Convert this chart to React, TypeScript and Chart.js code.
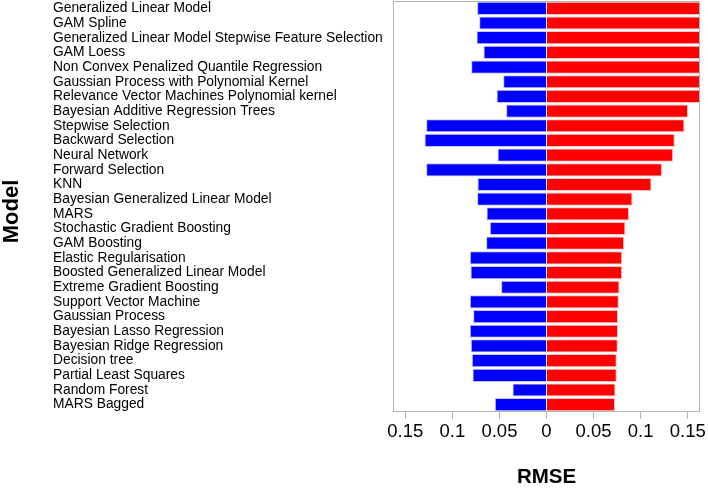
import React, { useEffect, useRef } from "react";
import { Chart, registerables } from "chart.js";

Chart.register(...registerables);

const models = [
  "Generalized Linear Model",
  "GAM Spline",
  "Generalized Linear Model Stepwise Feature Selection",
  "GAM Loess",
  "Non Convex Penalized Quantile Regression",
  "Gaussian Process with Polynomial Kernel",
  "Relevance Vector Machines Polynomial kernel",
  "Bayesian Additive Regression Trees",
  "Stepwise Selection",
  "Backward Selection",
  "Neural Network",
  "Forward Selection",
  "KNN",
  "Bayesian Generalized Linear Model",
  "MARS",
  "Stochastic Gradient Boosting",
  "GAM Boosting",
  "Elastic Regularisation",
  "Boosted Generalized Linear Model",
  "Extreme Gradient Boosting",
  "Support Vector Machine",
  "Gaussian Process",
  "Bayesian Lasso Regression",
  "Bayesian Ridge Regression",
  "Decision tree",
  "Partial Least Squares",
  "Random Forest",
  "MARS Bagged",
];

// left (blue) side, magnitudes
const leftRMSE = [
  0.0737, 0.0715, 0.0743, 0.0669, 0.08, 0.046, 0.053, 0.0429, 0.1278, 0.1295,
  0.052, 0.1278, 0.0733, 0.0737, 0.0637, 0.0602, 0.0641, 0.0814, 0.0807, 0.0482,
  0.0814, 0.0779, 0.0814, 0.0804, 0.0793, 0.0786, 0.0361, 0.0549,
];

// right (red) side
const rightRMSE = [
  0.175, 0.175, 0.175, 0.175, 0.175, 0.175, 0.175, 0.1503, 0.1465, 0.1362,
  0.1345, 0.1227, 0.1115, 0.0913, 0.0877, 0.0838, 0.0824, 0.0803, 0.0803, 0.0775,
  0.0768, 0.076, 0.076, 0.0757, 0.0746, 0.0746, 0.0732, 0.0728,
];

const xTickValues = [-0.15, -0.1, -0.05, 0, 0.05, 0.1, 0.15];
const xTickLabels = ["0.15", "0.1", "0.05", "0", "0.05", "0.1", "0.15"];
const xAxisTitle = "RMSE";
const yAxisTitle = "Model";

const FONT = "'Liberation Sans', Arial, Helvetica, sans-serif";
const LABEL_SIZE = 13.8;

export default function App() {
  const canvasRef = useRef<HTMLCanvasElement | null>(null);

  useEffect(() => {
    const canvas = canvasRef.current;
    if (!canvas) return;

    const mctx = document.createElement("canvas").getContext("2d")!;
    mctx.font = `${LABEL_SIZE}px ${FONT}`;
    let widest = 0;
    for (const m of models) widest = Math.max(widest, mctx.measureText(m).width);
    const yAxisWidth = 340;
    const labelPad = Math.max(0, yAxisWidth - widest);

    const boxPlugin = {
      id: "boxPlugin",
      afterDatasetsDraw(chart: any) {
        const { ctx, chartArea } = chart;
        ctx.save();
        ctx.strokeStyle = "#b3b3b3";
        ctx.lineWidth = 1;
        ctx.strokeRect(
          Math.round(chartArea.left) + 0.5,
          Math.round(chartArea.top) + 0.5,
          Math.round(chartArea.right - chartArea.left) - 1,
          Math.round(chartArea.bottom - chartArea.top) - 1
        );
        ctx.restore();
      },
      afterDraw(chart: any) {
        const { ctx, chartArea } = chart;
        ctx.save();
        ctx.translate(12, (chartArea.top + chartArea.bottom) / 2 + 5);
        ctx.rotate(-Math.PI / 2);
        ctx.font = `bold 22px ${FONT}`;
        ctx.fillStyle = "#000";
        ctx.textAlign = "center";
        ctx.textBaseline = "middle";
        ctx.fillText(yAxisTitle, 0, 0);
        ctx.restore();
      },
    };

    const chart = new Chart(canvas, {
      type: "bar",
      data: {
        labels: models,
        datasets: [
          {
            label: "left",
            data: leftRMSE.map((v) => -v),
            backgroundColor: "#0000ff",
            borderColor: "#c4c4ff",
            borderWidth: 1,
            categoryPercentage: 0.9,
            barPercentage: 1,
          },
          {
            label: "right",
            data: rightRMSE,
            backgroundColor: "#ff0000",
            borderColor: "#ffc4c4",
            borderWidth: 1,
            categoryPercentage: 0.9,
            barPercentage: 1,
          },
        ],
      },
      options: {
        indexAxis: "y",
        animation: false,
        responsive: false,
        devicePixelRatio: 1,
        layout: { padding: { left: 53, top: 1, right: 8, bottom: 0 } },
        plugins: {
          legend: { display: false },
          tooltip: { enabled: false },
        },
        scales: {
          x: {
            stacked: true,
            min: -0.163,
            max: 0.163,
            afterBuildTicks: (scale: any) => {
              scale.ticks = xTickValues.map((v) => ({ value: v }));
            },
            afterFit: (scale: any) => {
              scale.height = 76;
              scale.paddingLeft = 0;
              scale.paddingRight = 0;
            },
            grid: {
              drawOnChartArea: false,
              drawTicks: true,
              tickLength: 7,
              color: "#b3b3b3",
            },
            border: { display: false },
            ticks: {
              autoSkip: false,
              maxRotation: 0,
              padding: 2,
              color: "#000",
              font: { family: FONT, size: 18.5 },
              callback: (_v: any, i: number) => xTickLabels[i],
            },
            title: {
              display: true,
              text: xAxisTitle,
              color: "#000",
              font: { family: FONT, size: 20.5, weight: "bold", lineHeight: 1 },
              padding: 0,
            },
          },
          y: {
            stacked: true,
            afterFit: (scale: any) => {
              scale.width = yAxisWidth;
              scale.paddingTop = 0;
              scale.paddingBottom = 0;
            },
            grid: { display: false, drawTicks: false },
            border: { display: false },
            ticks: {
              autoSkip: false,
              crossAlign: "far",
              padding: labelPad,
              color: "#000",
              font: { family: FONT, size: LABEL_SIZE },
            },
          },
        },
      },
      plugins: [boxPlugin],
    } as any);

    return () => chart.destroy();
  }, []);

  return (
    <div style={{ position: "fixed", left: 0, top: 0, width: 708, height: 488, background: "#fff" }}>
      <canvas ref={canvasRef} width={708} height={488} style={{ display: "block" }} />
    </div>
  );
}
